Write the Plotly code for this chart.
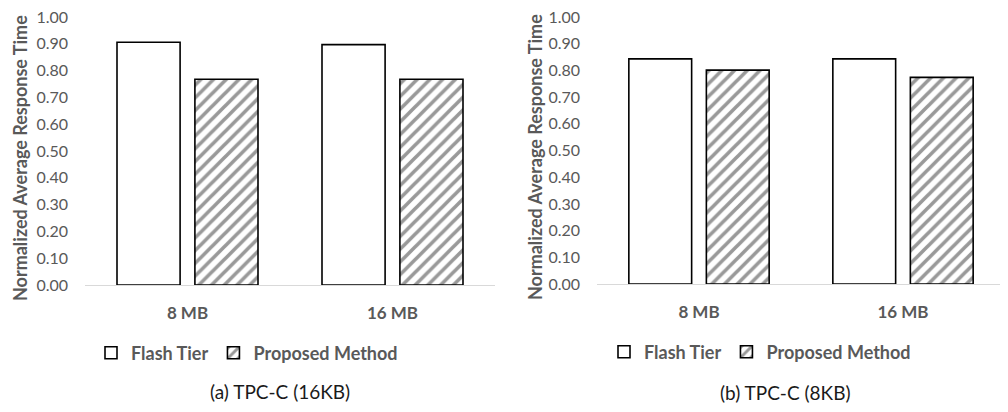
import plotly.graph_objects as go

categories = ["8 MB", "16 MB"]
series_names = ["Flash Tier", "Proposed Method"]
left_flash = [0.906, 0.897]
left_proposed = [0.768, 0.768]
right_flash = [0.843, 0.843]
right_proposed = [0.801, 0.774]
y_ticks = [0.0, 0.1, 0.2, 0.3, 0.4, 0.5, 0.6, 0.7, 0.8, 0.9, 1.0]
y_title = "Normalized Average Response Time"
captions = ["(a) TPC-C (16KB)", "(b) TPC-C (8KB)"]

W, H = 1008, 412
OFF = 8  # page body margin
FONT = "Lato"
GRAY = "#595959"

fig = go.Figure()

def add_pair(flash, proposed, xa, ya, leg):
    fig.add_trace(go.Bar(
        x=categories, y=flash, name=series_names[0], xaxis=xa, yaxis=ya, legend=leg,
        marker=dict(color="white", line=dict(color="black", width=1.6)),
        hoverinfo="y"))
    fig.add_trace(go.Bar(
        x=categories, y=proposed, name=series_names[1], xaxis=xa, yaxis=ya, legend=leg,
        marker=dict(color="white", line=dict(color="black", width=1.6),
                    pattern=dict(shape="/", fgcolor="#333333", bgcolor="white",
                                 size=9, solidity=0.4)),
        hoverinfo="y"))

add_pair(left_flash, left_proposed, "x", "y", "legend")
add_pair(right_flash, right_proposed, "x2", "y2", "legend2")

def px_x(p):
    return (p - OFF) / W

def px_y(p):
    return 1 - (p - OFF) / H

xcommon = dict(showgrid=False, showline=True, linecolor="#d9d9d9", linewidth=1,
               ticks="", tickfont=dict(family=FONT, size=17, color=GRAY, weight="bold"),
               ticklabelstandoff=13, zeroline=False, fixedrange=True, automargin=False,
               ticklabeloverflow="allow")
ycommon = dict(range=[0, 1], tickvals=y_ticks, tickformat=".2f", showgrid=False,
               showline=False, zeroline=False, ticks="",
               tickfont=dict(family=FONT, size=16, color=GRAY), ticklabelstandoff=16,
               fixedrange=True, automargin=False, ticklabeloverflow="allow")

legfont = dict(family=FONT, size=18, color=GRAY, weight="bold")

fig.update_layout(
    width=W, height=H,
    margin=dict(l=0, r=0, t=0, b=0, autoexpand=False),
    paper_bgcolor="white", plot_bgcolor="white",
    barmode="group", bargap=0.24, bargroupgap=0.19,
    xaxis=dict(domain=[px_x(85), px_x(495)], anchor="y", **xcommon),
    yaxis=dict(domain=[px_y(285), px_y(17)], anchor="x", **ycommon),
    xaxis2=dict(domain=[px_x(597), px_x(1005)], anchor="y2", **xcommon),
    yaxis2=dict(domain=[px_y(284), px_y(17)], anchor="x2", **ycommon),
    legend=dict(orientation="h", x=px_x(247), y=px_y(353), xanchor="center", yanchor="middle",
                font=legfont, bgcolor="rgba(0,0,0,0)", itemclick=False, itemdoubleclick=False),
    legend2=dict(orientation="h", x=px_x(760), y=px_y(352), xanchor="center", yanchor="middle",
                 font=legfont, bgcolor="rgba(0,0,0,0)", itemclick=False, itemdoubleclick=False),
    showlegend=True,
)

annotations = [
    dict(text=y_title, x=px_x(20), y=px_y(158), textangle=-90),
    dict(text=y_title, x=px_x(535), y=px_y(157), textangle=-90),
]
for a in annotations:
    a.update(xref="paper", yref="paper", showarrow=False, xanchor="center", yanchor="middle",
             font=dict(family=FONT, size=18, color=GRAY, weight="bold"))
    fig.add_annotation(**a)

for txt, cx, cy in zip(captions, [280, 785], [391, 392]):
    fig.add_annotation(text=txt, x=px_x(cx), y=px_y(cy), xref="paper", yref="paper",
                       showarrow=False, xanchor="center", yanchor="middle",
                       font=dict(family=FONT, size=19, color="#1a1a1a"))

fig.write_html("out.html")
